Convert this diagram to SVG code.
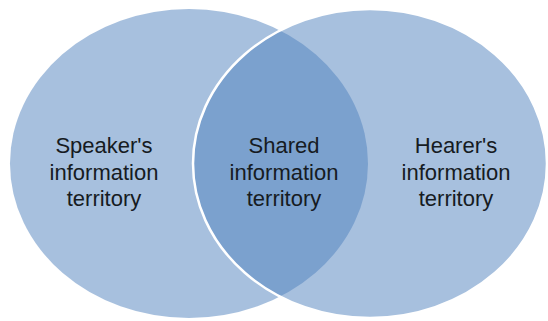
<svg xmlns="http://www.w3.org/2000/svg" width="548" height="321" viewBox="0 0 548 321">
  <style>
    .circle { fill: #4F81BD; fill-opacity: 0.5; }
    .top { stroke: #FFFFFF; stroke-width: 2.5; }
    .label { font-family: "Liberation Sans", Arial, sans-serif; font-size: 22px; fill: #161B22; text-anchor: middle; }
  </style>
  <rect width="548" height="321" fill="#FFFFFF"/>
  <g id="speaker">
    <ellipse class="circle" cx="189" cy="163.5" rx="179" ry="154.5"/>
  </g>
  <g id="hearer">
    <ellipse class="circle top" cx="370" cy="163.5" rx="177" ry="154.5"/>
  </g>
  <g id="speaker-label">
    <text class="label" x="104" y="153">Speaker's</text>
    <text class="label" x="104" y="180">information</text>
    <text class="label" x="104" y="206">territory</text>
  </g>
  <g id="shared-label">
    <text class="label" x="284" y="153">Shared</text>
    <text class="label" x="284" y="180">information</text>
    <text class="label" x="284" y="206">territory</text>
  </g>
  <g id="hearer-label">
    <text class="label" x="456" y="153">Hearer's</text>
    <text class="label" x="456" y="180">information</text>
    <text class="label" x="456" y="206">territory</text>
  </g>
</svg>
